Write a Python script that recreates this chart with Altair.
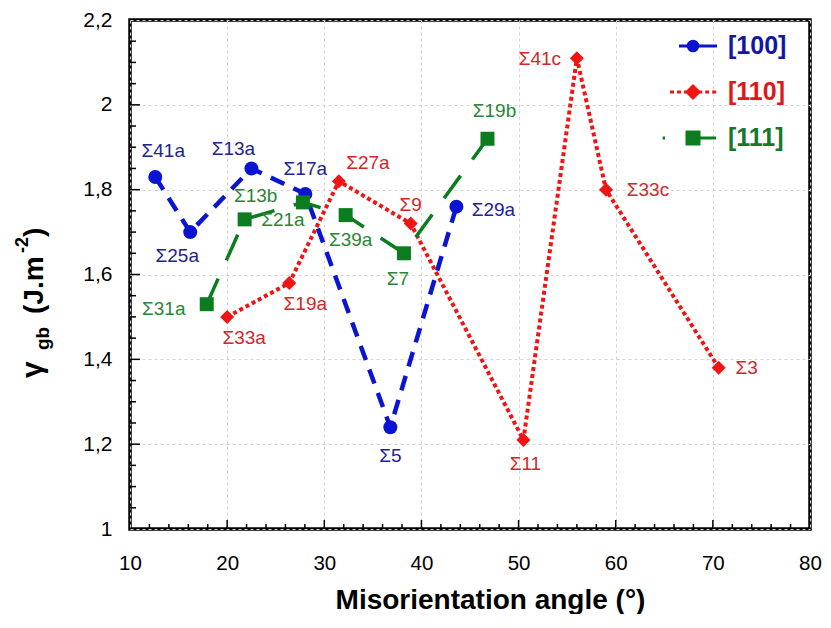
import altair as alt
import pandas as pd

# ---------------- data ----------------
series_names = ["[100]", "[110]", "[111]"]

angle_100 = [12.6, 16.2, 22.5, 28.05, 36.8, 43.6]
gamma_100 = [1.83, 1.70, 1.85, 1.79, 1.24, 1.76]
label_100 = ["Σ41a", "Σ25a", "Σ13a", "Σ17a", "Σ5", "Σ29a"]

angle_110 = [20.0, 26.4, 31.5, 38.9, 50.5, 56.0, 59.0, 70.6]
gamma_110 = [1.50, 1.58, 1.82, 1.72, 1.21, 2.11, 1.80, 1.38]
label_110 = ["Σ33a", "Σ19a", "Σ27a", "Σ9", "Σ11", "Σ41c", "Σ33c", "Σ3"]

angle_111 = [17.9, 21.8, 27.8, 32.2, 38.2, 46.8]
gamma_111 = [1.53, 1.73, 1.77, 1.74, 1.65, 1.92]
label_111 = ["Σ31a", "Σ13b", "Σ21a", "Σ39a", "Σ7", "Σ19b"]

x_ticks_major = [10, 20, 30, 40, 50, 60, 70, 80]
y_ticks_major = [1.0, 1.2, 1.4, 1.6, 1.8, 2.0, 2.2]

# ---------------- styling (label placement in pixels) ----------------
label_dx_100 = [8, -13, -18, 0, 0, 37]
label_dy_100 = [-26, 24, -19, -25, 29, 3]
label_dx_110 = [17, 16, 29, 0, 2, -37, 42, 28]
label_dy_110 = [21, 21, -18, -19, 24, 1, 0, 0]
label_dx_111 = [-43, 11, -20, 5, -6, 7]
label_dy_111 = [5, -23, 18, 25, 26, -28]

line_colors = ["#0a14d2", "#f01414", "#0b7d1e"]
label_colors = ["#23238f", "#d42626", "#2a8636"]
legend_colors = ["#1414a8", "#e01818", "#15782a"]

FONT = "Liberation Sans"
W, H = 680, 509
X_MIN, X_MAX = 10, 80
Y_MIN, Y_MAX = 1.0, 2.2

rows = []
for s, ang, gam, lab, dx, dy in [
    ("[100]", angle_100, gamma_100, label_100, label_dx_100, label_dy_100),
    ("[110]", angle_110, gamma_110, label_110, label_dx_110, label_dy_110),
    ("[111]", angle_111, gamma_111, label_111, label_dx_111, label_dy_111),
]:
    for a, g, l, ddx, ddy in zip(ang, gam, lab, dx, dy):
        rows.append({"series": s, "angle": a, "gamma": g, "label": l, "dx": ddx, "dy": ddy})
df = pd.DataFrame(rows)

# minor tick positions
x_minor = [v for v in range(12, 80, 2) if v % 10 != 0]
y_minor = [round(1.0 + 0.05 * i, 2) for i in range(1, 24) if i % 4 != 0]

x_scale = alt.Scale(domain=[X_MIN, X_MAX], nice=False, zero=False)
y_scale = alt.Scale(domain=[Y_MIN, Y_MAX], nice=False, zero=False)

x_axis = alt.Axis(
    values=x_ticks_major, labelFont=FONT, labelFontSize=20.5, labelColor="black",
    labelPadding=24, labelFlush=False, ticks=False, tickSize=0, domain=False,
    grid=True, gridColor="#d4d4d4", gridDash=[3, 3], gridWidth=1,
    title="Misorientation angle (°)", titleFont=FONT, titleFontSize=28,
    titleFontWeight="bold", titleColor="black", titleX=360, titleY=79,
    titleBaseline="alphabetic",
)
y_axis = alt.Axis(
    values=y_ticks_major, labelFont=FONT, labelFontSize=21, labelColor="black",
    labelPadding=18, ticks=False, tickSize=0, domain=False,
    labelExpr="replace(format(datum.value, '.1~f'), '.', ',')",
    grid=True, gridColor="#d4d4d4", gridDash=[3, 3], gridWidth=1, title=None,
)

base = alt.Chart(df)

# lines use the stroke channel (own scale, no legend)
lines = base.mark_line().encode(
    x=alt.X("angle:Q", scale=x_scale, axis=x_axis),
    y=alt.Y("gamma:Q", scale=y_scale, axis=y_axis),
    stroke=alt.Stroke("series:N", scale=alt.Scale(range=line_colors), legend=None),
    strokeDash=alt.StrokeDash("series:N", scale=alt.Scale(range=[[15, 10], [4, 3], [28, 20]]), legend=None),
    strokeWidth=alt.StrokeWidth("series:N", scale=alt.Scale(range=[4.5, 3.5, 3.5]), legend=None),
)

# legend symbols: line + marker drawn as custom paths
sym_100 = "M-3.5,0L6,0M-1.2,0A1.2,1.2,0,1,1,1.2,0A1.2,1.2,0,1,1,-1.2,0Z"
sym_110 = ("M-5.75,0L-4.75,0M-4,0L-3,0M-2.25,0L-1.5,0"
           "M1.5,0L2.3,0M3.05,0L4.05,0M4.8,0L5.8,0"
           "M-1.5,0L0,-1.5L1.5,0L0,1.5Z")
sym_111 = "M-7.6,0L-7.0,0M-1.5,-1.5L1.5,-1.5L1.5,1.5L-1.5,1.5ZM1.5,0L5.75,0"
sym_expr = "datum.value == '[100]' ? '%s' : datum.value == '[110]' ? '%s' : '%s'" % (sym_100, sym_110, sym_111)
col_expr = "datum.value == '[100]' ? '%s' : datum.value == '[110]' ? '%s' : '%s'" % tuple(line_colors)
lab_expr = "datum.value == '[100]' ? '%s' : datum.value == '[110]' ? '%s' : '%s'" % tuple(legend_colors)

legend = alt.Legend(
    title=None, orient="none", legendX=550.5, legendY=13.5, padding=0,
    labelFont=FONT, labelFontSize=25, labelFontWeight="bold",
    labelColor=alt.ExprRef(expr=lab_expr),
    symbolType=alt.ExprRef(expr=sym_expr),
    symbolStrokeColor=alt.ExprRef(expr=col_expr),
    symbolStrokeWidth=3, symbolSize=64, symbolOffset=0,
    labelOffset=22.5, rowPadding=20,
)

points = base.mark_point(filled=True, opacity=1, size=196).encode(
    x=alt.X("angle:Q", scale=x_scale),
    y=alt.Y("gamma:Q", scale=y_scale),
    color=alt.Color("series:N", scale=alt.Scale(domain=series_names, range=line_colors), legend=legend),
    shape=alt.Shape("series:N", scale=alt.Scale(range=["circle", "diamond", "square"]), legend=None),
)

# labels: pixel offsets converted to data units
labels = base.transform_calculate(
    lx="datum.angle + datum.dx * %f" % ((X_MAX - X_MIN) / W),
    ly="datum.gamma - datum.dy * %f" % ((Y_MAX - Y_MIN) / H),
).mark_text(font=FONT, fontSize=19, baseline="middle", align="center").encode(
    x=alt.X("lx:Q", scale=x_scale),
    y=alt.Y("ly:Q", scale=y_scale),
    text="label:N",
    fill=alt.Fill("series:N", scale=alt.Scale(range=label_colors), legend=None),
)

# inward ticks
xt_major = alt.Chart(pd.DataFrame({"angle": x_ticks_major[1:-1]})).mark_rule(color="black", strokeWidth=1.5).encode(
    x=alt.X("angle:Q", scale=x_scale), y=alt.value(H), y2=alt.value(H - 9))
xt_minor = alt.Chart(pd.DataFrame({"angle": x_minor})).mark_rule(color="black", strokeWidth=1.5).encode(
    x=alt.X("angle:Q", scale=x_scale), y=alt.value(H), y2=alt.value(H - 5))
yt_major = alt.Chart(pd.DataFrame({"gamma": y_ticks_major[1:-1]})).mark_rule(color="black", strokeWidth=1.5).encode(
    y=alt.Y("gamma:Q", scale=y_scale), x=alt.value(0), x2=alt.value(10))
yt_minor = alt.Chart(pd.DataFrame({"gamma": y_minor})).mark_rule(color="black", strokeWidth=1.5).encode(
    y=alt.Y("gamma:Q", scale=y_scale), x=alt.value(0), x2=alt.value(6))


# y-axis title pieces (gamma_gb (J.m^-2))
def title_piece(txt, px, py, size):
    return alt.Chart(pd.DataFrame({"t": [txt]})).mark_text(
        angle=270, align="left", baseline="alphabetic", font=FONT,
        fontWeight="bold", fontSize=size, color="black",
    ).encode(text="t:N", x=alt.value(px), y=alt.value(py))


ytitle = [
    title_piece("γ", -88, 358, 30),
    title_piece("gb", -81, 330, 19),
    title_piece("(J.m", -87, 294, 28),
    title_piece("-2", -102, 233, 18),
    title_piece(")", -87, 217, 28),
]

chart = alt.layer(
    lines, points, labels, xt_major, xt_minor, yt_major, yt_minor, *ytitle
).properties(
    width=W, height=H,
    background="white",
    autosize=alt.AutoSizeParams(type="none"),
    padding={"left": 122, "top": 12, "right": 13, "bottom": 85},
).configure_view(
    stroke="black", strokeWidth=3.5
)

chart.save("out.html", embed_options={"renderer": "svg", "actions": False})
